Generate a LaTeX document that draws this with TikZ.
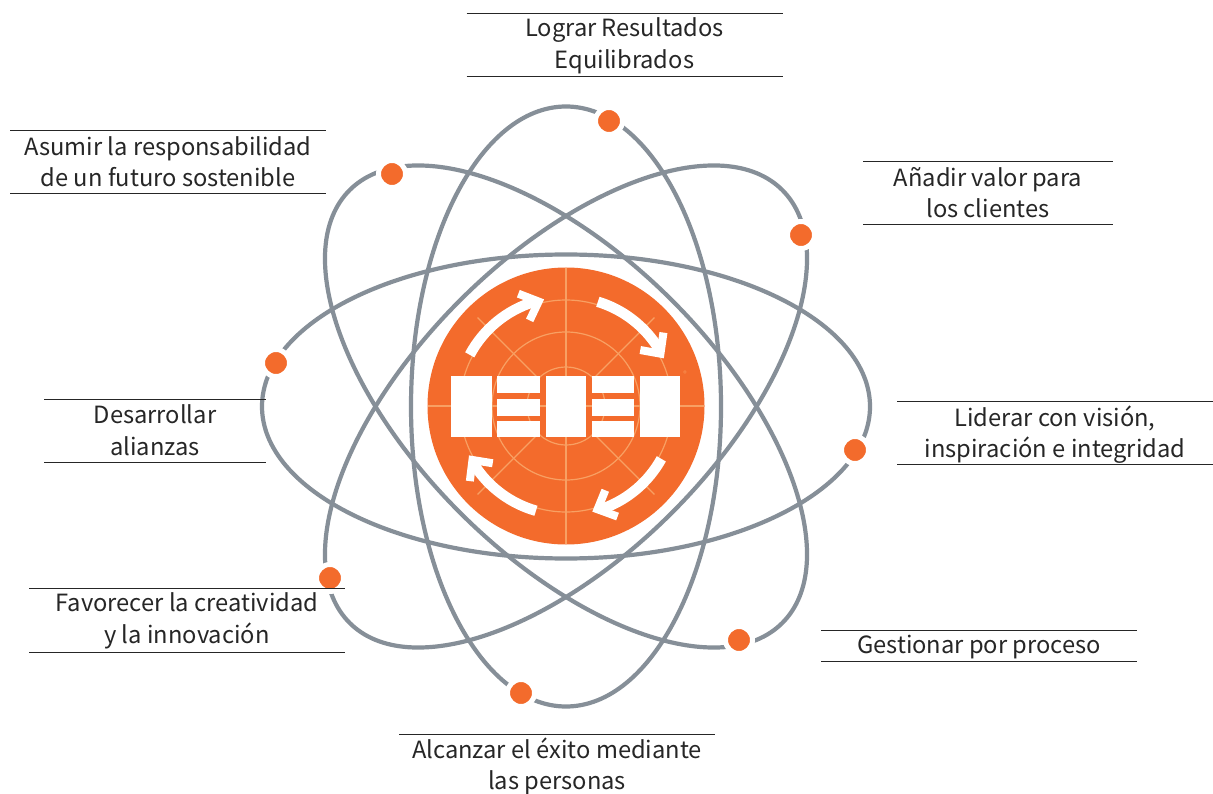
\documentclass[tikz,border=0pt]{standalone}
\usepackage{fontspec}
\setmainfont{Noto Sans CJK SC}
\definecolor{orb}{HTML}{868F98}
\definecolor{org}{HTML}{F36B2C}
\definecolor{orl}{HTML}{F8A063}
\definecolor{ink}{HTML}{262626}
\tikzset{
  orbit/.style={draw=orb,line width=4.2pt},
  dot/.style={circle,fill=org,draw=white,line width=5pt,minimum size=27pt,inner sep=0pt},
  lbl/.style={inner sep=0pt,outer sep=0pt,align=center,text=ink,font=\fontsize{23.7}{31.5}\selectfont,minimum height=#1},
  lbl/.default=63pt,
  rulel/.style={draw=ink,line width=0.8pt},
  whitebox/.style={fill=white,draw=none},
  grid/.style={draw=orl,line width=1.2pt},
  arc/.style={draw=white,line width=10.5pt},
  barb/.style={draw=white,line width=8pt,miter limit=10}
}
\begin{document}
\begin{tikzpicture}[x=1pt,y=-1pt]
\useasboundingbox (0,0) rectangle (1213,794);
\fill[white] (0,0) rectangle (1213,794);
% orbits
\foreach \a/\ra/\rb in {0/304/152,45/306/150,90/300/155,135/306/150}
  \draw[orbit,shift={(566,406.5)},rotate=\a] (0,0) ellipse [x radius=\ra,y radius=\rb];
% dots
\node[dot] (d1) at (609,121) {};
\node[dot] (d2) at (801,235) {};
\node[dot] (d3) at (855,450) {};
\node[dot] (d4) at (739,640) {};
\node[dot] (d5) at (521,693) {};
\node[dot] (d6) at (330,578) {};
\node[dot] (d7) at (276,363) {};
\node[dot] (d8) at (392,174) {};
% logo
\fill[org] (566,406) circle [radius=138.5];
\begin{scope}[shift={(566,406)},x=1pt,y=1pt]
  \foreach \r in {39,74,106} \draw[grid] (0,0) circle [radius=\r];
  \draw[grid] (-138,0) -- (138,0);
  \draw[grid] (0,-138) -- (0,138);
  \foreach \a in {45,135,225,315} \draw[grid] (\a:39) -- (\a:125);
  \foreach \s/\e in {152/107,73/32,-29/-70,-106/-147}{
    \draw[arc] (\s:109) arc [start angle=\s,end angle=\e,radius=109];
  }
  \foreach \e/\b in {104.7/113,29/37,-73/-65,-150/-142}{
    \draw[barb] (\b:122) -- (\e:108) -- (\b:93);
  }
\end{scope}
\begin{scope}[shift={(410,250)},x=0.3333pt,y=-0.3333pt]
  \fill[whitebox] (122,378) rectangle (245,562);
  \fill[whitebox] (407,378) rectangle (528,562);
  \fill[whitebox] (690,378) rectangle (810,562);
  \foreach \x/\X in {262/390,545/672}{
    \fill[whitebox] (\x,378) rectangle (\X,430);
    \fill[whitebox] (\x,447) rectangle (\X,497);
    \fill[whitebox] (\x,514) rectangle (\X,562);
  }
  \node[text=orl,font=\fontsize{7}{7}\selectfont,inner sep=0pt] (reg) at (825,370) {®};
\end{scope}
% labels
\node[lbl,minimum width=316pt] (a) at (624.5,46) {Lograr Resultados\\Equilibrados};
\node[lbl,minimum width=316pt] (b) at (168,161.5) {Asumir la responsabilidad\\de un futuro sostenible};
\node[lbl,minimum width=250pt] (c) at (988,192.5) {Añadir valor para\\los clientes};
\node[lbl,minimum width=316pt] (e) at (1055,434.5) {Liderar con visión,\\inspiración e integridad};
\node[lbl=31pt,minimum width=316pt] (f) at (979,647) {Gestionar por proceso};
\node[lbl,minimum width=316pt] (g) at (557,766.5) {Alcanzar el éxito mediante\\las personas};
\node[lbl=64pt,minimum width=316pt] (h) at (187,621) {Favorecer la creatividad\\y la innovación};
\node[lbl,minimum width=222pt] (i) at (155,430) {Desarrollar\\alianzas};
\foreach \n/\o in {a/1.5,b/0,c/0,e/2,f/1.5,g/1,h/1,i/-0.5}{
  \draw[rulel] ([yshift=\o pt]\n.north west) -- ([yshift=\o pt]\n.north east);
  \draw[rulel] ([yshift=\o pt]\n.south west) -- ([yshift=\o pt]\n.south east);
}
\end{tikzpicture}
\end{document}
